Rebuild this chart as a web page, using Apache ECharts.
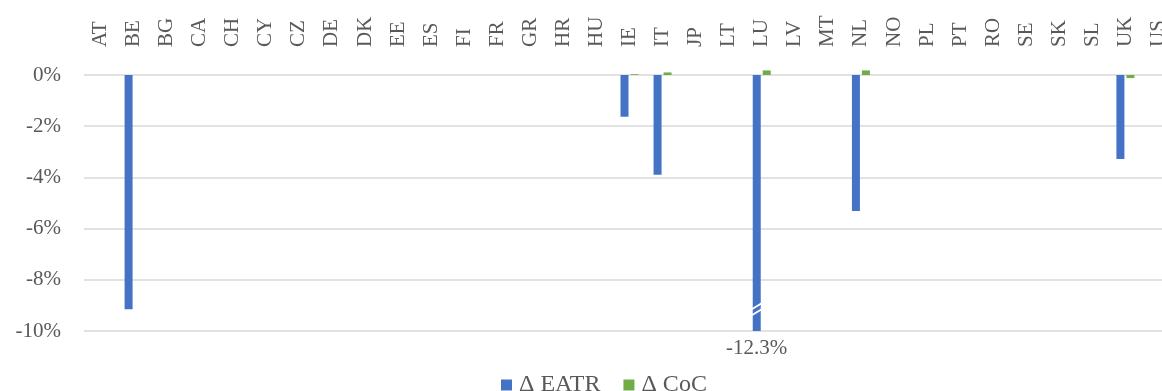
<!DOCTYPE html>
<html>
<head>
<meta charset="utf-8">
<script src="https://cdn.jsdelivr.net/npm/echarts@6/dist/echarts.min.js"></script>
<style>
  html, body { margin: 0; padding: 0; background: #fff; overflow: hidden; }
  #chart { width: 1162px; height: 391px; }
</style>
</head>
<body>
<div id="chart"></div>
<script>
// Country codes along the top axis
const countries = ['AT','BE','BG','CA','CH','CY','CZ','DE','DK','EE','ES','FI','FR','GR','HR','HU',
                   'IE','IT','JP','LT','LU','LV','MT','NL','NO','PL','PT','RO','SE','SK','SL','UK','US'];

// Change in effective average tax rate (percentage points)
const deltaEATR = [0, -9.15, 0, 0, 0, 0, 0, 0, 0, 0, 0, 0, 0, 0, 0, 0,
                   -1.63, -3.9, 0, 0, -12.3, 0, 0, -5.31, 0, 0, 0, 0, 0, 0, 0, -3.28, 0];

// Change in cost of capital (percentage points)
const deltaCoC = [0, 0, 0, 0, 0, 0, 0, 0, 0, 0, 0, 0, 0, 0, 0, 0,
                  0.03, 0.1, 0, 0, 0.18, 0, 0, 0.18, 0, 0, 0, 0, 0, 0, 0, -0.12, 0];

// Value axis range and tick step
const yMin = -10, yMax = 0, yStep = 2;

const FONT = '"Liberation Serif", "Times New Roman", serif';
const TEXT = '#595959';
const BLUE = '#4472C4';
const GREEN = '#70AD47';
const BAR_W = 8;
const BAR_GAP = 0.25;

// Bars running past the axis minimum get a break mark just above the bottom edge
const breakData = [];
deltaEATR.forEach((v, i) => { if (v < yMin) breakData.push([i, yMin + 0.85]); });

const chart = echarts.init(document.getElementById('chart'), null, { renderer: 'canvas' });

chart.setOption({
  animation: false,
  backgroundColor: '#ffffff',
  textStyle: { fontFamily: FONT },
  // plot area runs a little past the right edge, so the last column is cut off
  grid: { left: 84, top: 75, width: 1091, height: 256, containLabel: false, outerBoundsMode: 'none' },
  legend: {
    top: 368,
    left: 496,
    icon: 'rect',
    itemWidth: 11,
    itemHeight: 11,
    itemGap: 23,
    textStyle: { fontFamily: FONT, fontSize: 24, color: TEXT, padding: [0, 0, 0, 2] },
    data: ['Δ EATR', 'Δ CoC']
  },
  xAxis: {
    type: 'category',
    position: 'top',
    data: countries,
    axisLine: { show: false },
    axisTick: { show: false },
    axisLabel: {
      rotate: 90,
      interval: 0,
      margin: 28,
      fontFamily: FONT,
      fontSize: 21,
      color: TEXT,
      hideOverlap: false
    },
    splitLine: { show: false }
  },
  yAxis: {
    type: 'value',
    min: yMin,
    max: yMax,
    interval: yStep,
    axisLine: { show: false },
    axisTick: { show: false },
    axisLabel: {
      margin: 23,
      fontFamily: FONT,
      fontSize: 21,
      color: TEXT,
      formatter: v => v + '%'
    },
    splitLine: { lineStyle: { color: '#d9d9d9', width: 1.5 } }
  },
  series: [
    {
      name: 'Δ EATR',
      type: 'bar',
      data: deltaEATR,
      barWidth: BAR_W,
      barGap: (BAR_GAP * 100) + '%',
      clip: true,
      itemStyle: { color: BLUE },
      label: {
        show: true,
        position: 'bottom',
        distance: 7,
        fontFamily: FONT,
        fontSize: 21,
        color: TEXT,
        formatter: p => (p.value < yMin ? p.value.toFixed(1) + '%' : '')
      },
      z: 2
    },
    {
      name: 'Δ CoC',
      type: 'bar',
      data: deltaCoC,
      barWidth: BAR_W,
      clip: false,
      itemStyle: { color: GREEN },
      z: 2
    },
    {
      // White slanted strokes marking the truncated bar
      type: 'custom',
      data: breakData,
      z: 5,
      silent: true,
      renderItem: (params, api) => {
        const pt = api.coord([api.value(0), api.value(1)]);
        const cx = pt[0] - (BAR_W + BAR_W * BAR_GAP) / 2;
        const hw = BAR_W / 2 + 1;
        const line = dy => ({
          type: 'line',
          shape: { x1: cx - hw, y1: pt[1] + dy + 3, x2: cx + hw, y2: pt[1] + dy - 3 },
          style: { stroke: '#ffffff', lineWidth: 2 }
        });
        return { type: 'group', children: [line(-3), line(3)] };
      }
    }
  ]
});
</script>
</body>
</html>
